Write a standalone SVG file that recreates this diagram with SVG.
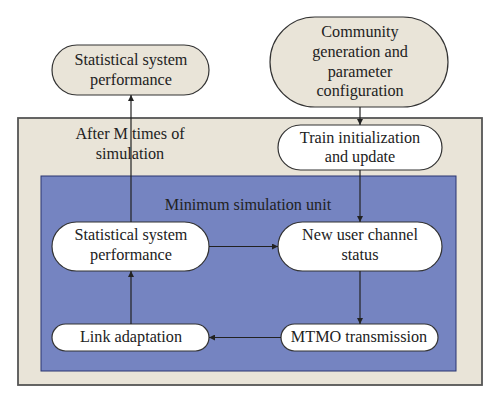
<svg xmlns="http://www.w3.org/2000/svg" width="500" height="404" viewBox="0 0 500 404">
<style>
text{font-family:"Liberation Serif",serif;font-size:16.2px;fill:#222;text-anchor:middle}
.beige{fill:#e9e4d8;stroke:#333;stroke-width:1.2}
.white{fill:#fff;stroke:#333;stroke-width:1.2}
.c{stroke:#222;stroke-width:1.2;fill:none;marker-end:url(#ah)}
</style>
<defs>
<marker id="ah" viewBox="0 0 10 10" refX="10" refY="5" markerWidth="6" markerHeight="6" markerUnits="userSpaceOnUse" orient="auto">
<path d="M0,0 L10,5 L0,10 z" fill="#222"/>
</marker>
</defs>
<rect width="500" height="404" fill="#fff"/>
<g id="outer">
<rect x="18" y="118" width="464" height="267" fill="#e9e4d8" stroke="#555" stroke-width="1.8"/>
<text x="130" y="139">After M times of</text>
<text x="130" y="159">simulation</text>
</g>
<g id="inner">
<rect x="41" y="176" width="415" height="195" fill="#7584c1" stroke="#2a3470" stroke-width="1"/>
<text x="248" y="210">Minimum simulation unit</text>
</g>
<g id="stat-top">
<rect class="beige" x="52" y="45" width="157" height="50" rx="25"/>
<text x="131" y="65">Statistical system</text>
<text x="131" y="85">performance</text>
</g>
<g id="community">
<rect class="beige" x="270" y="17" width="178" height="90" rx="45"/>
<text x="360" y="37">Community</text>
<text x="360" y="57">generation and</text>
<text x="360" y="77">parameter</text>
<text x="360" y="96">configuration</text>
</g>
<g id="train">
<rect class="white" x="278" y="125" width="164" height="45" rx="22.5"/>
<text x="360" y="143">Train initialization</text>
<text x="360" y="162">and update</text>
</g>
<g id="stat-inner">
<rect class="white" x="52" y="222" width="157" height="49" rx="24.5"/>
<text x="131" y="240">Statistical system</text>
<text x="131" y="260">performance</text>
</g>
<g id="newuser">
<rect class="white" x="278" y="222" width="164" height="49" rx="24.5"/>
<text x="360" y="240">New user channel</text>
<text x="360" y="260">status</text>
</g>
<g id="link">
<rect class="white" x="52" y="324" width="157" height="27" rx="13.5"/>
<text x="131" y="342">Link adaptation</text>
</g>
<g id="mtmo">
<rect class="white" x="281" y="324" width="157" height="27" rx="13.5"/>
<text x="359" y="342">MTMO transmission</text>
</g>
<g id="connectors">
<path class="c" d="M131,222 V95"/>
<path class="c" d="M360,107 V125"/>
<path class="c" d="M360,170 V222"/>
<path class="c" d="M209,246.5 H278"/>
<path class="c" d="M360,271 V324"/>
<path class="c" d="M281,337.5 H209"/>
<path class="c" d="M131,324 V271"/>
</g>
</svg>
